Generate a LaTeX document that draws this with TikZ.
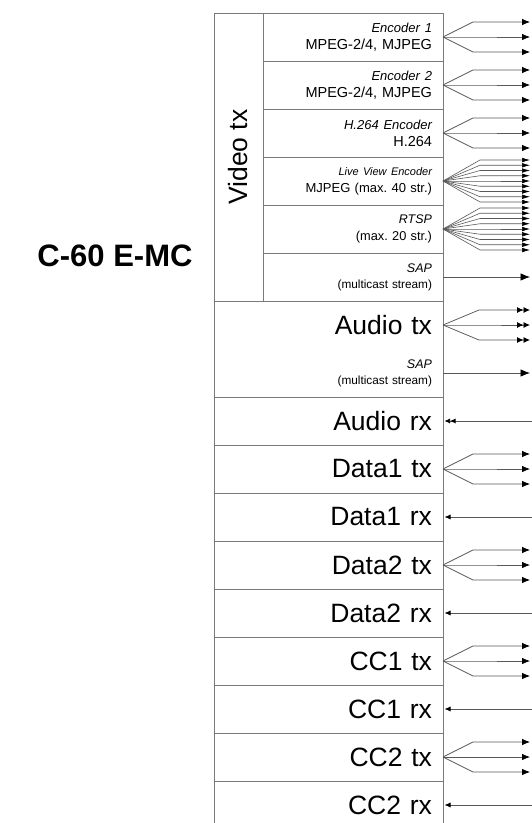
\documentclass[tikz,border=0pt]{standalone}
\usepackage{fontspec}
\setmainfont{Liberation Sans}
\usetikzlibrary{positioning,fit,calc,arrows.meta}
\definecolor{boxgray}{HTML}{7A7A7A}
\definecolor{wiregray}{HTML}{585858}
\newcommand{\encname}[2]{{\fontsize{#1}{#1}\selectfont\itshape #2}}
\frenchspacing

\begin{document}
\begin{tikzpicture}[
        x=1pt, y=-1pt,
        framed/.style={draw=boxgray, line width=0.8pt},
        row/.style={
            rectangle, outer sep=0pt,
            inner xsep=11pt, inner ysep=0pt,
            minimum height=48pt, align=right
        },
        encrow/.style={
            row, framed,
            minimum width=180pt, text width=158pt,
            font=\fontsize{14.5}{17}\selectfont
        },
        bigrow/.style={
            row, framed,
            minimum width=229pt, text width=207pt,
            font=\fontsize{26.5}{30}\selectfont
        },
        wire/.style={draw=wiregray, line width=0.75pt},
        fanline/.style={wire, -{Latex[length=8pt,width=6.5pt,color=black]}},
        denseline/.style={wire, line width=0.6pt, -{Latex[length=8pt,width=4.6pt,color=black]}},
        dualline/.style={wire, -{Latex[length=6.5pt,width=6pt,color=black]Latex[length=6.5pt,width=6pt,color=black]}},
        sapline/.style={wire, -{Latex[length=9.5pt,width=7.5pt,color=black]}},
        rxline/.style={wire, shorten >=1.5pt, -{Latex[length=6pt,width=5pt,color=black]}},
        dualrxline/.style={wire, shorten >=1.5pt, -{Latex[length=5.5pt,width=5pt,color=black]Latex[length=5.5pt,width=5pt,color=black]}}
    ]
        \useasboundingbox (0,0) rectangle (532,823);

        \node[font=\fontsize{31}{36}\selectfont\bfseries] (title) at (115,256) {C-60 E-MC};

        % video block
        \node[row, framed, minimum width=49pt, minimum height=288pt, anchor=north west] (vid) at (214,13) {};
        \node[rotate=90, font=\fontsize{26.5}{30}\selectfont] (vidlbl) at (vid.center) {Video tx};

        \node[encrow, anchor=north west] (enc1) at (vid.north east) {\encname{13}{Encoder 1}\\MPEG-2/4, MJPEG};
        \node[encrow] (enc2) [below=0pt of enc1] {\encname{13}{Encoder 2}\\MPEG-2/4, MJPEG};
        \node[encrow] (h264) [below=0pt of enc2] {\encname{13}{H.264 Encoder}\\H.264};
        \node[encrow, font=\fontsize{13}{17}\selectfont] (live) [below=0pt of h264] {\encname{11}{Live View Encoder}\\MJPEG (max. 40 str.)};
        \node[encrow, font=\fontsize{12.8}{17}\selectfont] (rtsp) [below=0pt of live] {\encname{12.5}{RTSP}\\(max. 20 str.)};
        \node[encrow, font=\fontsize{11.8}{16}\selectfont] (vsap) [below=0pt of rtsp] {\encname{12.5}{SAP}\\(multicast stream)};

        % audio block
        \node[bigrow, draw=none, anchor=north west] (audiotx) at (vid.south west) {Audio tx};
        \node[bigrow, draw=none, font=\fontsize{11.8}{16}\selectfont] (audiosap) [below=0pt of audiotx] {\encname{12.5}{SAP}\\(multicast stream)};
        \node[fit=(audiotx) (audiosap), framed, inner sep=0pt, outer sep=0pt] (audio) {};

        \node[bigrow] (audiorx) [below=0pt of audiosap] {Audio rx};
        \node[bigrow] (data1tx) [below=0pt of audiorx] {Data1 tx};
        \node[bigrow] (data1rx) [below=0pt of data1tx] {Data1 rx};
        \node[bigrow] (data2tx) [below=0pt of data1rx] {Data2 tx};
        \node[bigrow] (data2rx) [below=0pt of data2tx] {Data2 rx};
        \node[bigrow] (cc1tx) [below=0pt of data2rx] {CC1 tx};
        \node[bigrow] (cc1rx) [below=0pt of cc1tx] {CC1 rx};
        \node[bigrow] (cc2tx) [below=0pt of cc1rx] {CC2 tx};
        \node[bigrow] (cc2rx) [below=0pt of cc2tx] {CC2 rx};

        % outgoing streams
        \foreach \src in {enc1, enc2, h264, data1tx, data2tx, cc1tx, cc2tx} {
            \foreach \dy [count=\i] in {-15, 0, 15} {
                \coordinate (\src-out\i) at ($(\src.east)+(87,\dy)$);
                \draw[fanline] (\src.east) -- ++(30,\dy) -- (\src-out\i);
            }
        }
        \foreach \src in {live, rtsp} {
            \foreach \dy [count=\i] in {-21, -15.75, ..., 21} {
                \coordinate (\src-out\i) at ($(\src.east)+(87,\dy)$);
                \draw[denseline] (\src.east) -- ++(37,\dy) -- (\src-out\i);
            }
        }
        \foreach \dy [count=\i] in {-15, 0, 15} {
            \coordinate (audiotx-out\i) at ($(audiotx.east)+(87,\dy)$);
            \draw[dualline] (audiotx.east) -- ++(36,\dy) -- (audiotx-out\i);
        }
        \coordinate (vsap-out) at ($(vsap.east)+(87,0)$);
        \draw[sapline] (vsap.east) -- (vsap-out);
        \coordinate (audiosap-out) at ($(audiosap.east)+(87,0)$);
        \draw[sapline] (audiosap.east) -- (audiosap-out);

        % incoming streams
        \coordinate (audiorx-in) at ($(audiorx.east)+(89,0)$);
        \draw[dualrxline] (audiorx-in) -- (audiorx.east);
        \foreach \dst in {data1rx, data2rx, cc1rx, cc2rx} {
            \coordinate (\dst-in) at ($(\dst.east)+(89,0)$);
            \draw[rxline] (\dst-in) -- (\dst.east);
        }
    \end{tikzpicture}
\end{document}
